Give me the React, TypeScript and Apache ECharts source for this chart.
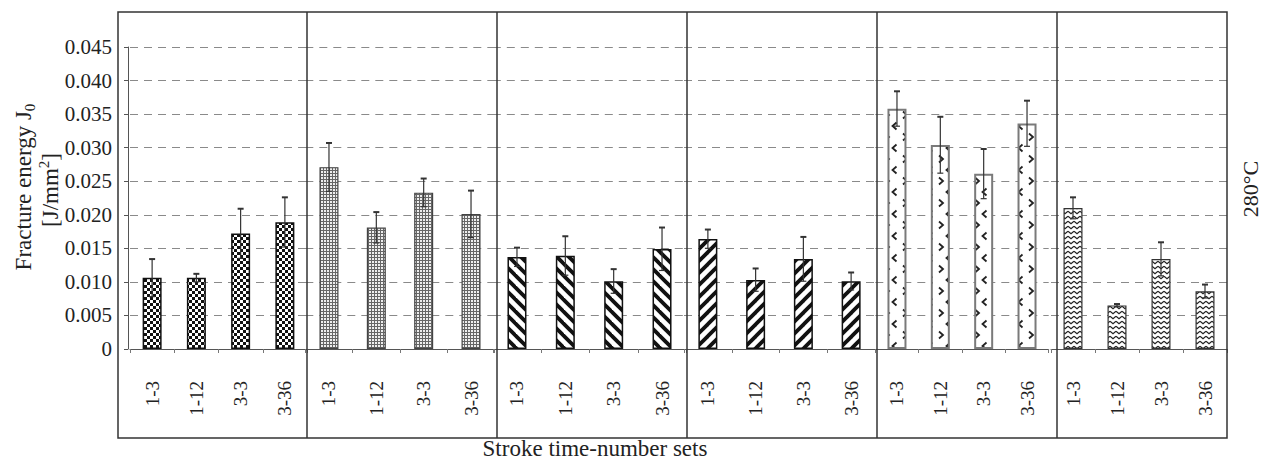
import React, { useEffect, useRef } from 'react';
import * as echarts from 'echarts';

// ---------------- data ----------------
const categories = ['1-3', '1-12', '3-3', '3-36'];

const set1Values = [0.0106, 0.0106, 0.0172, 0.0189];
const set1Errors = [0.0028, 0.0006, 0.0037, 0.0037];
const set2Values = [0.0271, 0.0181, 0.0233, 0.0201];
const set2Errors = [0.0036, 0.0023, 0.0021, 0.0035];
const set3Values = [0.0137, 0.0139, 0.0101, 0.0149];
const set3Errors = [0.0014, 0.0029, 0.0018, 0.0032];
const set4Values = [0.0164, 0.0103, 0.0134, 0.0101];
const set4Errors = [0.0014, 0.0017, 0.0033, 0.0013];
const set5Values = [0.0358, 0.0304, 0.0261, 0.0336];
const set5Errors = [0.0026, 0.0042, 0.0037, 0.0034];
const set6Values = [0.0210, 0.0065, 0.0134, 0.0086];
const set6Errors = [0.0016, 0.0002, 0.0025, 0.0010];

const yMin = 0;
const yMax = 0.045;
const yStep = 0.005;

const yTitleMain = 'Fracture energy J';
const yTitleSub = '0';
const yUnitMain = '[J/mm';
const yUnitSup = '2';
const xTitle = 'Stroke time-number sets';
const sideLabel = '280°C';

// ---------------- layout / style ----------------
const FONT = 'Liberation Serif';
const GRID_TOP = 47;
const GRID_HEIGHT = 302;
const BAR_W = 19;
const panelBounds = [
  [130, 307],
  [305.3, 494.7],
  [492.8, 686.2],
  [684, 875],
  [875.3, 1048.7],
  [1051, 1227],
];
const separators = [307, 497, 687, 877, 1057];
const FRAME = { x: 118, y: 12, w: 1109, h: 426 };

function tile(w: number, h: number, draw: (ctx: CanvasRenderingContext2D) => void) {
  const c = document.createElement('canvas');
  c.width = w;
  c.height = h;
  const ctx = c.getContext('2d')!;
  ctx.fillStyle = '#ffffff';
  ctx.fillRect(0, 0, w, h);
  draw(ctx);
  return c;
}

function makeTiles() {
  const checker = tile(6, 6, (ctx) => {
    ctx.fillStyle = '#111';
    ctx.fillRect(0, 0, 6, 6);
    ctx.fillStyle = '#fff';
    ctx.fillRect(0, 0, 3, 3);
    ctx.fillRect(3, 3, 3, 3);
  });
  const dots = tile(3, 3, (ctx) => {
    ctx.fillStyle = '#666';
    ctx.fillRect(0, 0, 3, 3);
    ctx.fillStyle = '#eee';
    ctx.fillRect(0, 0, 2, 2);
  });
  const stripes = (dir: number) =>
    tile(12, 12, (ctx) => {
      ctx.strokeStyle = '#111';
      ctx.lineWidth = 3.8;
      for (const k of [-12, 0, 12]) {
        ctx.beginPath();
        if (dir > 0) {
          ctx.moveTo(k - 2, -2);
          ctx.lineTo(k + 14, 14);
        } else {
          ctx.moveTo(k - 2, 14);
          ctx.lineTo(k + 14, -2);
        }
        ctx.stroke();
      }
    });
  const chevron = tile(18, 22, (ctx) => {
    ctx.strokeStyle = '#222';
    ctx.lineWidth = 1.8;
    ctx.beginPath();
    ctx.moveTo(3, 1.5);
    ctx.lineTo(7, 5);
    ctx.lineTo(3, 8.5);
    ctx.stroke();
    ctx.beginPath();
    ctx.moveTo(14.5, 12.5);
    ctx.lineTo(10.5, 16);
    ctx.lineTo(14.5, 19.5);
    ctx.stroke();
  });
  const zigzag = tile(6, 5, (ctx) => {
    ctx.strokeStyle = '#222';
    ctx.lineWidth = 1.2;
    ctx.beginPath();
    ctx.moveTo(0, 1.2);
    ctx.lineTo(3, 3.8);
    ctx.lineTo(6, 1.2);
    ctx.stroke();
  });
  return [checker, dots, stripes(1), stripes(-1), chevron, zigzag];
}

const borderColors = ['#111', '#444', '#111', '#111', '#7a7a7a', '#333'];
const borderWidths = [1.5, 1.2, 1.5, 1.5, 2, 1.2];

export default function App() {
  const ref = useRef<HTMLDivElement>(null);

  useEffect(() => {
    if (!ref.current) return;
    const chart = echarts.init(ref.current, null, { renderer: 'svg', width: 1263, height: 460 });
    const tiles = makeTiles();
    const allValues = [set1Values, set2Values, set3Values, set4Values, set5Values, set6Values];
    const allErrors = [set1Errors, set2Errors, set3Errors, set4Errors, set5Errors, set6Errors];

    const grids: any[] = [];
    const xAxes: any[] = [];
    const yAxes: any[] = [];
    const series: any[] = [];

    panelBounds.forEach(([l, r], g) => {
      grids.push({ left: l, width: r - l, top: GRID_TOP, height: GRID_HEIGHT, containLabel: false });
      xAxes.push({
        type: 'category',
        gridIndex: g,
        data: categories,
        boundaryGap: true,
        axisLine: { show: true, lineStyle: { color: '#555', width: 1 } },
        axisTick: { show: true, length: 4, interval: 0, lineStyle: { color: '#777' } },
        axisLabel: {
          rotate: 90,
          margin: 32,
          interval: 0,
          fontFamily: FONT,
          fontSize: 19,
          color: '#222',
        },
      });
      yAxes.push({
        type: 'value',
        gridIndex: g,
        min: yMin,
        max: yMax,
        interval: yStep,
        offset: g === 0 ? 2 : 0,
        axisLine: { show: g === 0, lineStyle: { color: '#555', width: 1 } },
        axisTick: { show: g === 0, length: 4, lineStyle: { color: '#555' } },
        axisLabel: {
          show: g === 0,
          margin: 16,
          fontFamily: FONT,
          fontSize: 21,
          color: '#222',
          formatter: (v: number) => (v === 0 ? '0' : v.toFixed(3)),
        },
        splitLine: {
          show: true,
          lineStyle: { color: '#8a8a8a', width: 1, type: [8, 6] },
        },
      });
      const band = (r - l) / categories.length;
      series.push({
        type: 'bar',
        xAxisIndex: g,
        yAxisIndex: g,
        barWidth: BAR_W,
        z: 2,
        itemStyle: { borderColor: borderColors[g], borderWidth: borderWidths[g] },
        data: allValues[g].map((v, i) => ({
          value: v,
          itemStyle: {
            color: {
              image: tiles[g],
              repeat: 'repeat',
              x: Math.round(l + (i + 0.5) * band - BAR_W / 2),
              y: 0,
            },
          },
        })),
      });
      series.push({
        type: 'custom',
        xAxisIndex: g,
        yAxisIndex: g,
        z: 5,
        data: allValues[g].map((v, i) => [i, v, allErrors[g][i]]),
        renderItem: (params: any, api: any) => {
          const idx = api.value(0);
          const v = api.value(1);
          const e = api.value(2);
          const hi = api.coord([idx, v + e]);
          const lo = api.coord([idx, v - e]);
          const x = hi[0];
          const st = { stroke: '#333', lineWidth: 1.2 };
          return {
            type: 'group',
            children: [
              { type: 'line', shape: { x1: x, y1: lo[1], x2: x, y2: hi[1] }, style: st },
              { type: 'line', shape: { x1: x - 3, y1: hi[1], x2: x + 3, y2: hi[1] }, style: { stroke: '#333', lineWidth: 2 } },
              { type: 'line', shape: { x1: x - 3, y1: lo[1], x2: x + 3, y2: lo[1] }, style: st },
            ],
          };
        },
      });
    });

    const graphics: any[] = [
      {
        type: 'rect',
        shape: { x: FRAME.x, y: FRAME.y, width: FRAME.w, height: FRAME.h },
        style: { fill: 'none', stroke: '#333', lineWidth: 1.5 },
        z: 10,
      },
      ...separators.map((sx) => ({
        type: 'line',
        shape: { x1: sx, y1: FRAME.y, x2: sx, y2: FRAME.y + FRAME.h },
        style: { stroke: '#333', lineWidth: 1.5 },
        z: 10,
      })),
      {
        type: 'text',
        x: 23,
        y: 187,
        rotation: Math.PI / 2,
        style: {
          text: `{a|${yTitleMain}}{b|${yTitleSub}}`,
          align: 'center',
          verticalAlign: 'middle',
          fill: '#222',
          rich: {
            a: { fontFamily: FONT, fontSize: 23, lineHeight: 28, fill: '#222' },
            b: { fontFamily: FONT, fontSize: 15, lineHeight: 13, verticalAlign: 'bottom', fill: '#222' },
          },
        },
        z: 10,
      },
      {
        type: 'text',
        x: 50,
        y: 190,
        rotation: Math.PI / 2,
        style: {
          text: `{a|${yUnitMain}}{c|${yUnitSup}}{a|]}`,
          align: 'center',
          verticalAlign: 'middle',
          fill: '#222',
          rich: {
            a: { fontFamily: FONT, fontSize: 23, lineHeight: 28, fill: '#222' },
            c: { fontFamily: FONT, fontSize: 15, lineHeight: 13, verticalAlign: 'top', fill: '#222' },
          },
        },
        z: 10,
      },
      {
        type: 'text',
        x: 1250,
        y: 189,
        rotation: Math.PI / 2,
        style: {
          text: sideLabel,
          fontFamily: FONT,
          fontSize: 22,
          align: 'center',
          verticalAlign: 'middle',
          fill: '#222',
        },
        z: 10,
      },
      {
        type: 'text',
        x: 595,
        y: 448,
        style: {
          text: xTitle,
          fontFamily: FONT,
          fontSize: 23,
          align: 'center',
          verticalAlign: 'middle',
          fill: '#222',
        },
        z: 10,
      },
    ];

    chart.setOption({
      animation: false,
      backgroundColor: '#ffffff',
      grid: grids,
      xAxis: xAxes,
      yAxis: yAxes,
      series,
      graphic: graphics,
    });
    return () => chart.dispose();
  }, []);

  return (
    <div
      ref={ref}
      style={{ position: 'absolute', left: 0, top: 0, width: 1263, height: 460, background: '#fff' }}
    />
  );
}
